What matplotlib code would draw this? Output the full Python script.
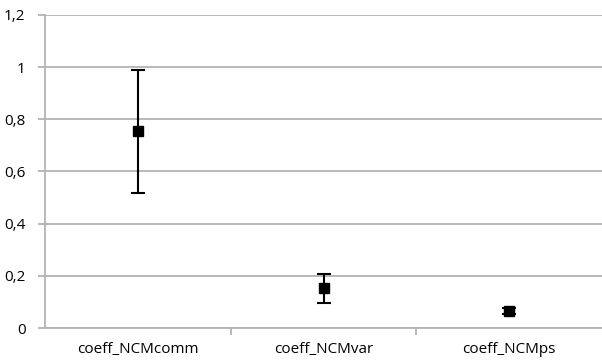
import numpy as np
import matplotlib
matplotlib.use("Agg")
from matplotlib import pyplot as plt
from matplotlib.ticker import FuncFormatter

# data
categories = ["coeff_NCMcomm", "coeff_NCMvar", "coeff_NCMps"]
values = [0.755, 0.153, 0.065]
err_low = [0.237, 0.058, 0.012]
err_high = [0.235, 0.053, 0.012]
yticks = [0, 0.2, 0.4, 0.6, 0.8, 1.0, 1.2]

plt.rcParams['font.family'] = ['Open Sans', 'DejaVu Sans']

fig = plt.figure(figsize=(6.02, 3.63), dpi=100)
ax = fig.add_axes([45 / 602, 35 / 363, 557 / 602, 313 / 363])

x = np.arange(len(categories))
ax.errorbar(x, values, yerr=[err_low, err_high], fmt='s', color='black',
            markersize=7, ecolor='black', elinewidth=1.5, capsize=5, capthick=1.5, zorder=3)

ax.set_xlim(-0.5, 2.5)
ax.set_ylim(0, 1.2)
ax.set_yticks(yticks)
ax.yaxis.set_major_formatter(FuncFormatter(lambda v, p: ('%g' % round(v, 1)).replace('.', ',')))
ax.set_xticks(x)
ax.set_xticklabels(categories)
ax.set_xticks([0.5, 1.5], minor=True)

ax.grid(axis='y', color='#b3b3b3', linewidth=1.3)
ax.set_axisbelow(True)
for s in ['top', 'right']:
    ax.spines[s].set_visible(False)
for s in ['left', 'bottom']:
    ax.spines[s].set_color('#b3b3b3')
    ax.spines[s].set_linewidth(1.3)

ax.tick_params(axis='y', length=5, color='#b3b3b3', width=1.3, labelsize=11, pad=9)
ax.tick_params(axis='x', which='major', length=0, labelsize=11, pad=10)
ax.tick_params(axis='x', which='minor', length=5, color='#b3b3b3', width=1.3)

fig.savefig("out.png", dpi=100)
